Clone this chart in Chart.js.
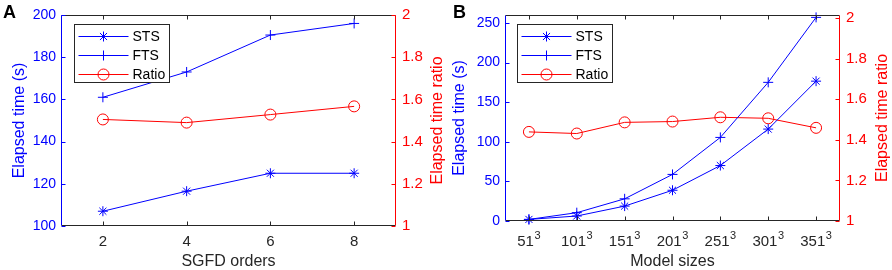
<!DOCTYPE html>
<html>
<head>
<meta charset="utf-8">
<script src="https://cdn.jsdelivr.net/npm/chart.js@4.4.1/dist/chart.umd.min.js"></script>
<style>
  body { margin: 0; background: #fff; width: 892px; height: 270px; overflow: hidden; position: relative; font-family: Arial, "Liberation Sans", sans-serif; }
  .panel { position: absolute; top: 0; width: 452px; height: 270px; }
  #wrapA { left: 0; }
  #wrapB { left: 440px; }
  .tag { position: absolute; top: 3px; font-weight: bold; font-size: 18px; line-height: 1; color: #000; }
</style>
</head>
<body>
<div class="panel" id="wrapA"><canvas id="chartA" width="452" height="270"></canvas></div>
<div class="panel" id="wrapB"><canvas id="chartB" width="452" height="270"></canvas></div>
<div class="tag" style="left:3px">A</div>
<div class="tag" style="left:453px">B</div>
<script>
// panel A: elapsed time vs SGFD order
const sgfdOrders = ['2', '4', '6', '8'];
const stsA = [107, 116.5, 125, 125];
const ftsA = [161, 173, 190.5, 196];
const ratioA = [1.505, 1.49, 1.528, 1.567];
const timeTicksA = [100, 120, 140, 160, 180, 200];

// panel B: elapsed time vs model size (n^3)
const modelSizes = ['51', '101', '151', '201', '251', '301', '351'];
const stsB = [2, 6.3, 18.8, 38.8, 70, 116, 176.5];
const ftsB = [2, 10.5, 28, 58.8, 105.5, 175, 257];
const ratioB = [1.439, 1.431, 1.486, 1.49, 1.511, 1.506, 1.459];
const timeTicksB = [0, 50, 100, 150, 200, 250];

const ratioTicks = [1, 1.2, 1.4, 1.6, 1.8, 2];

const blue = '#0000ff', red = '#ff0000', axisGray = '#262626';
const FONT = 'Arial, "Liberation Sans", sans-serif';

function axesPlugin(p) {
  return {
    id: 'matlabAxes',
    afterDatasetsDraw(chart) {
      const ctx = chart.ctx, a = chart.chartArea;
      const xs = chart.scales.x, yl = chart.scales.y, yr = chart.scales.y1;
      const L = a.left + 0.5, R = a.right - 0.5, T = a.top + 0.5, B = a.bottom - 0.5;
      ctx.save();
      ctx.lineWidth = 1;

      // box: gray top/bottom, blue left, red right
      ctx.strokeStyle = axisGray;
      ctx.beginPath();
      ctx.moveTo(L, T); ctx.lineTo(R, T);
      ctx.moveTo(L, B); ctx.lineTo(R, B);
      xs.ticks.forEach((t, i) => {
        const px = Math.round(xs.getPixelForTick(i)) + 0.5;
        ctx.moveTo(px, B); ctx.lineTo(px, B - 4);
        ctx.moveTo(px, T); ctx.lineTo(px, T + 4);
      });
      ctx.stroke();

      ctx.strokeStyle = blue;
      ctx.beginPath();
      ctx.moveTo(L, T); ctx.lineTo(L, B);
      yl.ticks.forEach(t => {
        const py = Math.round(yl.getPixelForValue(t.value)) + 0.5;
        ctx.moveTo(L, py); ctx.lineTo(L + 4, py);
      });
      ctx.stroke();

      ctx.strokeStyle = red;
      ctx.beginPath();
      ctx.moveTo(R, T); ctx.lineTo(R, B);
      yr.ticks.forEach(t => {
        const py = Math.round(yr.getPixelForValue(t.value)) + 0.5;
        ctx.moveTo(R, py); ctx.lineTo(R - 4, py);
      });
      ctx.stroke();

      // x tick labels (with optional superscript)
      ctx.fillStyle = axisGray;
      ctx.textBaseline = 'alphabetic';
      ctx.textAlign = 'left';
      xs.ticks.forEach((t, i) => {
        const px = xs.getPixelForTick(i);
        const base = p.xLabels[i];
        ctx.font = '15px ' + FONT;
        const wb = ctx.measureText(base).width;
        let ws = 0;
        if (p.sup) {
          ctx.font = '11px ' + FONT;
          ws = ctx.measureText(p.sup).width + 0.5;
        }
        const x0 = px - (wb + ws) / 2;
        ctx.font = '15px ' + FONT;
        ctx.fillText(base, x0, 246);
        if (p.sup) {
          ctx.font = '11px ' + FONT;
          ctx.fillText(p.sup, x0 + wb + 0.5, 239);
        }
      });

      // right axis title, reading bottom to top
      ctx.save();
      ctx.translate(p.rightTitleX, (a.top + a.bottom) / 2);
      ctx.rotate(-Math.PI / 2);
      ctx.font = '16px ' + FONT;
      ctx.fillStyle = red;
      ctx.textAlign = 'center';
      ctx.textBaseline = 'middle';
      ctx.fillText('Elapsed time ratio', 0, 0);
      ctx.restore();
    },
    afterDraw(chart) {
      // legend box
      const ctx = chart.ctx, a = chart.chartArea;
      const x = Math.round(a.left + p.legendDX) + 0.5, y = 24.5, w = 95, h = 58;
      ctx.save();
      ctx.fillStyle = '#fff';
      ctx.fillRect(x, y, w, h);
      ctx.strokeStyle = axisGray;
      ctx.lineWidth = 1;
      ctx.strokeRect(x, y, w, h);
      chart.data.datasets.forEach((ds, i) => {
        const yy = Math.round(y + 11 + i * 19) + 0.5;
        ctx.strokeStyle = ds.borderColor;
        ctx.beginPath();
        ctx.moveTo(x + 4, yy); ctx.lineTo(x + 54, yy);
        ctx.stroke();
        ctx.fillStyle = 'rgba(0,0,0,0)';
        Chart.helpers.drawPoint(ctx, {
          pointStyle: ds.pointStyle, rotation: 0,
          radius: ds.pointRadius, borderWidth: 1
        }, x + 29, yy);
        ctx.fillStyle = '#000';
        ctx.font = '14px ' + FONT;
        ctx.textBaseline = 'middle';
        ctx.textAlign = 'left';
        ctx.fillText(ds.label, x + 58, yy + 1);
      });
      ctx.restore();
    }
  };
}

function series(label, data, style, color, axis, radius) {
  return {
    label: label, data: data, yAxisID: axis,
    borderColor: color, borderWidth: 1,
    pointStyle: style, pointRadius: radius, pointBorderWidth: 1,
    pointBorderColor: color, pointBackgroundColor: 'rgba(0,0,0,0)',
    fill: false, tension: 0, clip: false
  };
}

function makePanel(id, p) {
  new Chart(document.getElementById(id), {
    type: 'line',
    data: {
      labels: p.xLabels,
      datasets: [
        series('STS', p.sts, 'star', blue, 'y', 5),
        series('FTS', p.fts, 'cross', blue, 'y', 5),
        series('Ratio', p.ratio, 'circle', red, 'y1', 5.5)
      ]
    },
    options: {
      responsive: false,
      animation: false,
      events: [],
      layout: { padding: { top: 14, left: 0, right: 0, bottom: 0 } },
      plugins: { legend: { display: false }, tooltip: { enabled: false } },
      scales: {
        x: {
          type: 'category', offset: true,
          grid: { display: false, drawTicks: false },
          border: { display: false },
          ticks: { display: false },
          title: {
            display: true, text: p.xTitle, color: axisGray,
            font: { family: FONT, size: 16, lineHeight: 1 },
            padding: { top: 0, bottom: 0 }
          },
          afterFit: s => { s.height = p.bottomH; }
        },
        y: {
          position: 'left', min: p.yMin, max: p.yMax,
          afterBuildTicks: s => { s.ticks = p.yTicks.map(v => ({ value: v })); },
          grid: { display: false, drawTicks: false },
          border: { display: false },
          ticks: { color: blue, padding: 5, font: { family: FONT, size: 14 } },
          title: {
            display: true, text: 'Elapsed time (s)', color: blue,
            font: { family: FONT, size: 16, lineHeight: 1 },
            padding: { top: 12, bottom: 0 }
          },
          afterFit: s => { s.width = p.leftW; }
        },
        y1: {
          position: 'right', min: 1, max: p.rMax,
          afterBuildTicks: s => { s.ticks = ratioTicks.map(v => ({ value: v })); },
          grid: { display: false, drawTicks: false },
          border: { display: false },
          ticks: {
            color: red, padding: 6, font: { family: FONT, size: 15 },
            callback: v => String(Math.round(v * 10) / 10)
          },
          afterFit: s => { s.width = p.rightW; }
        }
      }
    },
    plugins: [axesPlugin(p)]
  });
}

makePanel('chartA', {
  xLabels: sgfdOrders, sup: null, xTitle: 'SGFD orders',
  sts: stsA, fts: ftsA, ratio: ratioA,
  yMin: 100, yMax: 200, yTicks: timeTicksA, rMax: 2,
  leftW: 61, rightW: 56, bottomH: 44,
  legendDX: 13, rightTitleX: 438
});

makePanel('chartB', {
  xLabels: modelSizes, sup: '3', xTitle: 'Model sizes',
  sts: stsB, fts: ftsB, ratio: ratioB,
  yMin: 0, yMax: 260, yTicks: timeTicksB, rMax: 2.015,
  leftW: 65, rightW: 52, bottomH: 49,
  legendDX: 12, rightTitleX: 442.5
});
</script>
</body>
</html>
